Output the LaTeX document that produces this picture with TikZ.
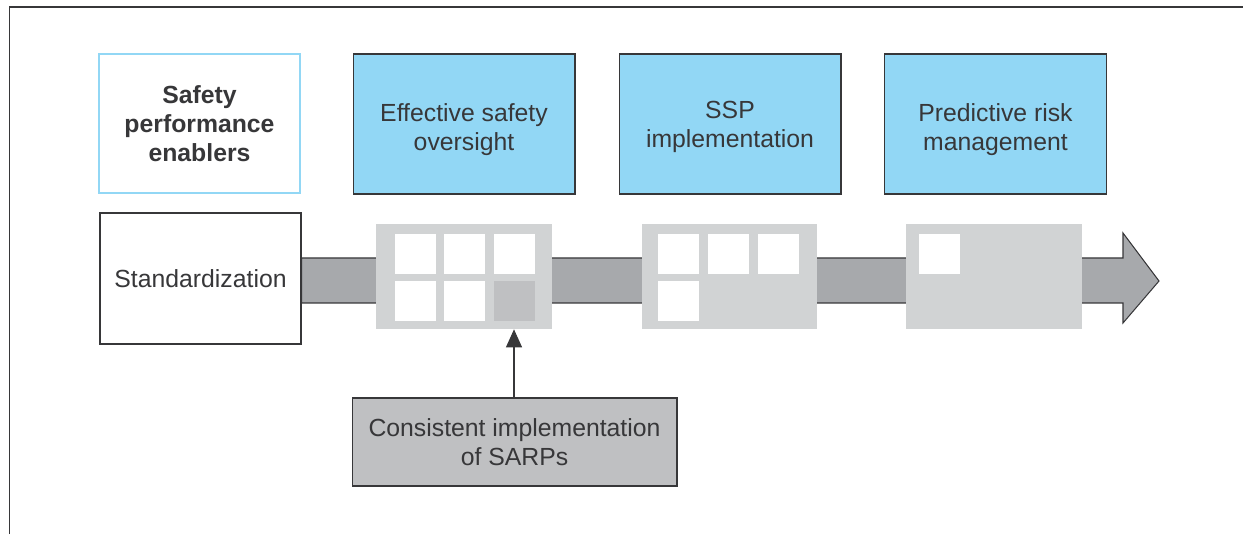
\documentclass[tikz,border=0pt]{standalone}
\usepackage{fontspec}
\setmainfont{Liberation Sans}
\usetikzlibrary{positioning,arrows.meta,calc}
\definecolor{skyfill}{RGB}{146,215,245}
\definecolor{panelgrey}{RGB}{209,211,212}
\definecolor{shaftgrey}{RGB}{167,169,172}
\definecolor{midgrey}{RGB}{191,192,194}
\definecolor{inkgrey}{RGB}{55,55,57}

\begin{document}
\begin{tikzpicture}[x=0.02cm,y=0.02cm,
    font=\fontsize{14.1pt}{16.6pt}\selectfont,
    stage/.style={draw=inkgrey,line width=0.6pt,fill=skyfill,
        minimum width=4.44cm,minimum height=2.8cm,inner sep=0pt},
    caption/.style={text=inkgrey,align=center,inner sep=0pt},
    enabler/.style={draw=skyfill,line width=1.2pt,fill=white,text=inkgrey,font=\fontsize{14.1pt}{16.6pt}\selectfont\bfseries,
        minimum width=4.02cm,minimum height=2.78cm,align=center,inner sep=0pt},
    panel/.style={fill=panelgrey,minimum width=3.52cm,minimum height=2.1cm,inner sep=0pt},
    slot/.style={fill=white,minimum size=0.82cm,inner sep=0pt},
    pointer/.style={draw=inkgrey,line width=0.6pt,-{Triangle[width=0.32cm,length=0.36cm]}}
]
    \useasboundingbox (0,0) rectangle (1243,534);

    % Frame
    \draw [inkgrey, line width=0.8pt] (9.5,0) -- (9.5,527) -- (1243,527);

    % Top row
    \node [enabler] (spe) at (199.5,410.5) {Safety\\performance\\enablers};
    \node [stage] (eso) at (464,410) {};
    \node [stage] (ssp) at (730,410) {};
    \node [stage] (prm) at (995.5,410) {};
    \node [caption] (esotext) at ([yshift=-3.4pt]eso.center) {Effective safety\\oversight};
    \node [caption] (ssptext) at ([yshift=-1.7pt]ssp.center) {SSP\\implementation};
    \node [caption] (prmtext) at ([yshift=-3.4pt]prm.center) {Predictive risk\\management};

    % Standardization and the big arrow
    \node [draw=inkgrey, line width=0.6pt, fill=white, text=inkgrey, minimum width=4.02cm,
           minimum height=2.62cm, inner sep=0pt] (std) at (200.5,255.5) {Standardization};
    \coordinate (tip) at (1159,253);
    \draw [fill=shaftgrey, draw=inkgrey, line width=0.6pt]
        (std.east |- 0,276) -- (1123,276) -- (1123,301) -- (tip)
        -- (1123,211) -- (1123,231) -- (std.east |- 0,231) -- cycle;

    % Panels
    \node [panel] (pan1) at (464,257.5) {};
    \node [panel] (pan2) at (729.5,257.5) {};
    \node [panel] (pan3) at (994,257.5) {};

    \foreach \x/\y [count=\i] in {415.5/280,464.5/280,514/280,415.5/233,464.5/233}
        \node [slot] (a\i) at (\x,\y) {};
    \node [slot, fill=midgrey] (a6) at (514,233) {};

    \foreach \x/\y [count=\i] in {678/280,728/280,778.5/280,678/233}
        \node [slot] (b\i) at (\x,\y) {};

    \node [slot] (c1) at (939,280) {};

    % SARPs
    \node [draw=inkgrey, line width=0.6pt, fill=midgrey, text=inkgrey, minimum width=6.5cm,
           minimum height=1.76cm, align=center, inner sep=0pt] (sarps) at (514.5,92)
           {Consistent implementation\\of SARPs};
    \draw [pointer] (sarps.north -| a6) -- (a6 |- pan1.south);

\end{tikzpicture}
\end{document}
